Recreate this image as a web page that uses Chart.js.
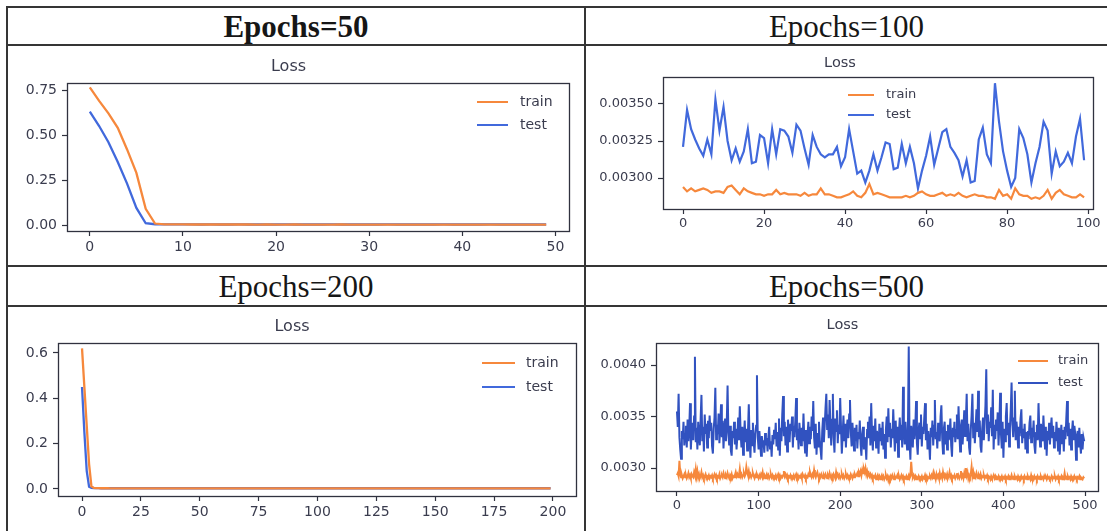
<!DOCTYPE html>
<html>
<head>
<meta charset="utf-8">
<script src="https://cdn.jsdelivr.net/npm/chart.js@4.4.1/dist/chart.umd.min.js"></script>
<style>
  body { margin: 0; background: #fff; width: 1107px; height: 531px; position: relative; overflow: hidden; }
  .rule { position: absolute; background: #353535; }
  .head { position: absolute; height: 38px; line-height: 38px; text-align: center;
          font-family: "Liberation Serif", serif; font-size: 31px; color: #161616; }
  canvas { position: absolute; }
</style>
</head>
<body>
<div class="rule" style="left:6px;top:6px;width:1101px;height:2px"></div>
<div class="rule" style="left:6px;top:44px;width:1101px;height:2px"></div>
<div class="rule" style="left:6px;top:265px;width:1101px;height:2px"></div>
<div class="rule" style="left:6px;top:305px;width:1101px;height:2px"></div>
<div class="rule" style="left:6px;top:6px;width:2px;height:525px"></div>
<div class="rule" style="left:584px;top:6px;width:2px;height:525px"></div>

<div class="head" style="left:8px;top:8px;width:576px;font-weight:bold">Epochs=50</div>
<div class="head" style="left:586px;top:8px;width:521px">Epochs=100</div>
<div class="head" style="left:8px;top:268px;width:576px">Epochs=200</div>
<div class="head" style="left:586px;top:268px;width:521px">Epochs=500</div>

<canvas id="c50"></canvas>
<canvas id="c100"></canvas>
<canvas id="c200"></canvas>
<canvas id="c500"></canvas>

<script>
// ---- data ----
const epochs50Train = [
  0.765, 0.690, 0.620, 0.540, 0.420, 0.290, 0.090, 0.0085, 0.0040, 0.0035,
  0.0033, 0.0032, 0.0031, 0.0031, 0.0030, 0.0030, 0.0030, 0.0030, 0.0029, 0.0030,
  0.0029, 0.0029, 0.0030, 0.0029, 0.0029, 0.0029, 0.0029, 0.0030, 0.0029, 0.0029,
  0.0029, 0.0029, 0.0029, 0.0029, 0.0029, 0.0029, 0.0029, 0.0029, 0.0029, 0.0029,
  0.0029, 0.0029, 0.0029, 0.0029, 0.0029, 0.0029, 0.0029, 0.0029, 0.0029, 0.0029
];
const epochs50Test = [
  0.630, 0.550, 0.460, 0.350, 0.230, 0.095, 0.010, 0.0045, 0.0036, 0.0034,
  0.0033, 0.0033, 0.0032, 0.0033, 0.0032, 0.0032, 0.0033, 0.0032, 0.0032, 0.0032,
  0.0032, 0.0033, 0.0032, 0.0032, 0.0032, 0.0032, 0.0033, 0.0032, 0.0032, 0.0032,
  0.0032, 0.0032, 0.0033, 0.0032, 0.0032, 0.0032, 0.0032, 0.0032, 0.0033, 0.0032,
  0.0032, 0.0032, 0.0032, 0.0033, 0.0032, 0.0032, 0.0032, 0.0032, 0.0032, 0.0032
];

const epochs100Train = [
  0.00294, 0.00291, 0.00293, 0.00291, 0.00292, 0.00293, 0.00292, 0.00290, 0.00291, 0.00291,
  0.00290, 0.00294, 0.00295, 0.00292, 0.00289, 0.00293, 0.00291, 0.00290, 0.00289, 0.00289,
  0.00288, 0.00289, 0.00289, 0.00292, 0.00289, 0.00290, 0.00289, 0.00289, 0.00289, 0.00288,
  0.00290, 0.00288, 0.00289, 0.00289, 0.00293, 0.00289, 0.00289, 0.00288, 0.00287, 0.00287,
  0.00288, 0.00289, 0.00291, 0.00288, 0.00287, 0.00290, 0.00296, 0.00289, 0.00290, 0.00289,
  0.00288, 0.00287, 0.00287, 0.00287, 0.00287, 0.00288, 0.00287, 0.00288, 0.00290, 0.00291,
  0.00289, 0.00288, 0.00288, 0.00289, 0.00290, 0.00288, 0.00289, 0.00288, 0.00290, 0.00288,
  0.00287, 0.00288, 0.00289, 0.00288, 0.00288, 0.00287, 0.00287, 0.00286, 0.00292, 0.00288,
  0.00289, 0.00286, 0.00293, 0.00289, 0.00288, 0.00288, 0.00286, 0.00287, 0.00286, 0.00288,
  0.00292, 0.00286, 0.00290, 0.00292, 0.00289, 0.00288, 0.00287, 0.00287, 0.00289, 0.00287
];
const epochs100Test = [
  0.00321, 0.00346, 0.00333, 0.00326, 0.00320, 0.00315, 0.00326, 0.00316, 0.00353, 0.00332,
  0.00348, 0.00325, 0.00312, 0.00320, 0.00311, 0.00318, 0.00333, 0.00310, 0.00311, 0.00329,
  0.00327, 0.00310, 0.00333, 0.00316, 0.00333, 0.00332, 0.00328, 0.00317, 0.00336, 0.00332,
  0.00320, 0.00309, 0.00329, 0.00321, 0.00316, 0.00314, 0.00316, 0.00316, 0.00321, 0.00308,
  0.00314, 0.00333, 0.00318, 0.00303, 0.00305, 0.00297, 0.00305, 0.00316, 0.00305, 0.00314,
  0.00324, 0.00323, 0.00306, 0.00307, 0.00323, 0.00310, 0.00321, 0.00310, 0.00293, 0.00305,
  0.00315, 0.00328, 0.00309, 0.00320, 0.00331, 0.00333, 0.00321, 0.00317, 0.00312, 0.00301,
  0.00312, 0.00297, 0.00298, 0.00326, 0.00334, 0.00316, 0.00310, 0.00364, 0.00338, 0.00318,
  0.00305, 0.00294, 0.00300, 0.00333, 0.00327, 0.00316, 0.00297, 0.00310, 0.00321, 0.00338,
  0.00332, 0.00303, 0.00318, 0.00308, 0.00311, 0.00317, 0.00310, 0.00328, 0.00340, 0.00312
];

const epochs200Train = [
  0.620, 0.450, 0.280, 0.110, 0.012, 0.0050, 0.0040, 0.0035, 0.0033, 0.0032,
  0.0031, 0.0031, 0.0030, 0.0030, 0.0030, 0.0030, 0.0030, 0.0029, 0.0030, 0.0029,
  0.0029, 0.0029, 0.0030, 0.0029, 0.0029, 0.0029, 0.0029, 0.0029, 0.0029, 0.0029,
  0.0029, 0.0029, 0.0029, 0.0029, 0.0030, 0.0029, 0.0029, 0.0029, 0.0029, 0.0029,
  0.0029, 0.0029, 0.0029, 0.0029, 0.0029, 0.0030, 0.0029, 0.0029, 0.0029, 0.0029,
  0.0029, 0.0029, 0.0029, 0.0029, 0.0029, 0.0029, 0.0029, 0.0029, 0.0029, 0.0029,
  0.0029, 0.0029, 0.0029, 0.0030, 0.0029, 0.0029, 0.0029, 0.0029, 0.0029, 0.0029,
  0.0029, 0.0029, 0.0029, 0.0029, 0.0029, 0.0029, 0.0029, 0.0029, 0.0029, 0.0029,
  0.0029, 0.0029, 0.0029, 0.0029, 0.0029, 0.0029, 0.0029, 0.0030, 0.0029, 0.0029,
  0.0029, 0.0029, 0.0029, 0.0029, 0.0029, 0.0029, 0.0029, 0.0029, 0.0029, 0.0029,
  0.0029, 0.0029, 0.0029, 0.0029, 0.0029, 0.0029, 0.0029, 0.0029, 0.0029, 0.0029,
  0.0029, 0.0029, 0.0030, 0.0029, 0.0029, 0.0029, 0.0029, 0.0029, 0.0029, 0.0029,
  0.0029, 0.0029, 0.0029, 0.0029, 0.0029, 0.0029, 0.0029, 0.0029, 0.0029, 0.0029,
  0.0029, 0.0029, 0.0029, 0.0029, 0.0029, 0.0029, 0.0029, 0.0029, 0.0029, 0.0029,
  0.0029, 0.0029, 0.0029, 0.0029, 0.0029, 0.0030, 0.0029, 0.0029, 0.0029, 0.0029,
  0.0029, 0.0029, 0.0029, 0.0029, 0.0029, 0.0029, 0.0029, 0.0029, 0.0029, 0.0029,
  0.0029, 0.0029, 0.0029, 0.0029, 0.0029, 0.0029, 0.0029, 0.0029, 0.0029, 0.0029,
  0.0029, 0.0029, 0.0029, 0.0029, 0.0029, 0.0029, 0.0029, 0.0029, 0.0029, 0.0029,
  0.0029, 0.0029, 0.0029, 0.0029, 0.0029, 0.0029, 0.0029, 0.0029, 0.0029, 0.0029,
  0.0029, 0.0029, 0.0029, 0.0029, 0.0029, 0.0029, 0.0029, 0.0029, 0.0029, 0.0029
];
const epochs200Test = [
  0.450, 0.250, 0.080, 0.010, 0.0045, 0.0038, 0.0035, 0.0034, 0.0033, 0.0033,
  0.0032, 0.0033, 0.0032, 0.0032, 0.0033, 0.0032, 0.0032, 0.0032, 0.0033, 0.0032,
  0.0032, 0.0032, 0.0032, 0.0033, 0.0032, 0.0032, 0.0032, 0.0032, 0.0032, 0.0033,
  0.0032, 0.0032, 0.0032, 0.0032, 0.0032, 0.0032, 0.0033, 0.0032, 0.0032, 0.0032,
  0.0032, 0.0033, 0.0032, 0.0032, 0.0032, 0.0032, 0.0032, 0.0032, 0.0033, 0.0032,
  0.0032, 0.0032, 0.0032, 0.0032, 0.0033, 0.0032, 0.0032, 0.0032, 0.0032, 0.0032,
  0.0032, 0.0032, 0.0033, 0.0032, 0.0032, 0.0032, 0.0032, 0.0032, 0.0032, 0.0033,
  0.0032, 0.0032, 0.0032, 0.0032, 0.0032, 0.0033, 0.0032, 0.0032, 0.0032, 0.0032,
  0.0032, 0.0032, 0.0032, 0.0033, 0.0032, 0.0032, 0.0032, 0.0032, 0.0032, 0.0032,
  0.0033, 0.0032, 0.0032, 0.0032, 0.0032, 0.0032, 0.0032, 0.0033, 0.0032, 0.0032,
  0.0032, 0.0032, 0.0032, 0.0032, 0.0033, 0.0032, 0.0032, 0.0032, 0.0032, 0.0032,
  0.0032, 0.0033, 0.0032, 0.0032, 0.0032, 0.0032, 0.0032, 0.0032, 0.0032, 0.0033,
  0.0032, 0.0032, 0.0032, 0.0032, 0.0032, 0.0033, 0.0032, 0.0032, 0.0032, 0.0032,
  0.0032, 0.0032, 0.0032, 0.0032, 0.0033, 0.0032, 0.0032, 0.0032, 0.0032, 0.0032,
  0.0032, 0.0033, 0.0032, 0.0032, 0.0032, 0.0032, 0.0032, 0.0032, 0.0033, 0.0032,
  0.0032, 0.0032, 0.0032, 0.0032, 0.0032, 0.0033, 0.0032, 0.0032, 0.0032, 0.0032,
  0.0032, 0.0032, 0.0033, 0.0032, 0.0032, 0.0032, 0.0032, 0.0032, 0.0032, 0.0032,
  0.0033, 0.0032, 0.0032, 0.0032, 0.0032, 0.0032, 0.0033, 0.0032, 0.0032, 0.0032,
  0.0032, 0.0032, 0.0032, 0.0033, 0.0032, 0.0032, 0.0032, 0.0032, 0.0032, 0.0032,
  0.0032, 0.0033, 0.0032, 0.0032, 0.0032, 0.0032, 0.0032, 0.0032, 0.0032, 0.0032
];

const epochs500Train = [
  0.00293, 0.00295, 0.00292, 0.00307, 0.00294, 0.00291, 0.00293, 0.00290, 0.00292, 0.00294,
  0.00291, 0.00293, 0.00290, 0.00292, 0.00295, 0.00291, 0.00293, 0.00290, 0.00294, 0.00292,
  0.00291, 0.00296, 0.00293, 0.00299, 0.00292, 0.00297, 0.00291, 0.00294, 0.00290, 0.00292,
  0.00296, 0.00291, 0.00293, 0.00290, 0.00292, 0.00294, 0.00290, 0.00292, 0.00291, 0.00293,
  0.00290, 0.00292, 0.00291, 0.00293, 0.00290, 0.00292, 0.00294, 0.00291, 0.00293, 0.00290,
  0.00292, 0.00291, 0.00294, 0.00290, 0.00292, 0.00293, 0.00291, 0.00295, 0.00292, 0.00290,
  0.00293, 0.00291, 0.00295, 0.00292, 0.00290, 0.00293, 0.00291, 0.00294, 0.00290, 0.00292,
  0.00291, 0.00293, 0.00296, 0.00292, 0.00294, 0.00291, 0.00293, 0.00299, 0.00292, 0.00294,
  0.00291, 0.00293, 0.00295, 0.00292, 0.00294, 0.00301, 0.00296, 0.00293, 0.00297, 0.00292,
  0.00294, 0.00291, 0.00293, 0.00295, 0.00292, 0.00290, 0.00293, 0.00291, 0.00294, 0.00292,
  0.00290, 0.00293, 0.00291, 0.00294, 0.00292, 0.00296, 0.00291, 0.00293, 0.00290, 0.00292,
  0.00294, 0.00291, 0.00293, 0.00290, 0.00292, 0.00294, 0.00291, 0.00293, 0.00290, 0.00292,
  0.00291, 0.00293, 0.00290, 0.00292, 0.00294, 0.00291, 0.00293, 0.00290, 0.00292, 0.00291,
  0.00293, 0.00297, 0.00292, 0.00294, 0.00291, 0.00293, 0.00290, 0.00292, 0.00291, 0.00293,
  0.00290, 0.00292, 0.00291, 0.00293, 0.00290, 0.00292, 0.00294, 0.00291, 0.00293, 0.00290,
  0.00292, 0.00291, 0.00293, 0.00290, 0.00294, 0.00292, 0.00291, 0.00293, 0.00290, 0.00292,
  0.00291, 0.00294, 0.00292, 0.00296, 0.00293, 0.00291, 0.00294, 0.00292, 0.00298, 0.00293,
  0.00291, 0.00294, 0.00296, 0.00292, 0.00290, 0.00293, 0.00291, 0.00294, 0.00292, 0.00290,
  0.00293, 0.00291, 0.00294, 0.00292, 0.00290, 0.00293, 0.00291, 0.00295, 0.00292, 0.00290,
  0.00293, 0.00291, 0.00294, 0.00292, 0.00290, 0.00296, 0.00292, 0.00294, 0.00291, 0.00293,
  0.00290, 0.00292, 0.00294, 0.00291, 0.00293, 0.00290, 0.00292, 0.00294, 0.00291, 0.00293,
  0.00290, 0.00292, 0.00291, 0.00294, 0.00292, 0.00290, 0.00293, 0.00291, 0.00294, 0.00292,
  0.00293, 0.00295, 0.00292, 0.00296, 0.00294, 0.00297, 0.00293, 0.00298, 0.00295, 0.00299,
  0.00296, 0.00300, 0.00294, 0.00297, 0.00293, 0.00295, 0.00292, 0.00294, 0.00291, 0.00293,
  0.00290, 0.00292, 0.00291, 0.00293, 0.00289, 0.00291, 0.00293, 0.00290, 0.00292, 0.00289,
  0.00291, 0.00293, 0.00290, 0.00292, 0.00289, 0.00291, 0.00293, 0.00290, 0.00292, 0.00288,
  0.00291, 0.00289, 0.00292, 0.00290, 0.00293, 0.00291, 0.00289, 0.00292, 0.00290, 0.00291,
  0.00293, 0.00290, 0.00292, 0.00289, 0.00291, 0.00293, 0.00290, 0.00292, 0.00289, 0.00291,
  0.00290, 0.00292, 0.00289, 0.00291, 0.00293, 0.00290, 0.00292, 0.00306, 0.00295, 0.00291,
  0.00293, 0.00290, 0.00292, 0.00289, 0.00291, 0.00290, 0.00292, 0.00289, 0.00291, 0.00290,
  0.00292, 0.00289, 0.00291, 0.00290, 0.00293, 0.00290, 0.00292, 0.00289, 0.00291, 0.00290,
  0.00292, 0.00290, 0.00293, 0.00291, 0.00295, 0.00290, 0.00292, 0.00289, 0.00294, 0.00291,
  0.00293, 0.00290, 0.00295, 0.00291, 0.00293, 0.00290, 0.00296, 0.00292, 0.00290, 0.00293,
  0.00291, 0.00294, 0.00290, 0.00292, 0.00296, 0.00291, 0.00293, 0.00290, 0.00292, 0.00291,
  0.00293, 0.00290, 0.00292, 0.00295, 0.00291, 0.00293, 0.00290, 0.00292, 0.00297, 0.00291,
  0.00293, 0.00290, 0.00295, 0.00291, 0.00300, 0.00293, 0.00296, 0.00290, 0.00293, 0.00291,
  0.00294, 0.00301, 0.00292, 0.00296, 0.00290, 0.00293, 0.00291, 0.00295, 0.00292, 0.00290,
  0.00293, 0.00291, 0.00294, 0.00290, 0.00292, 0.00291, 0.00293, 0.00290, 0.00292, 0.00291,
  0.00293, 0.00290, 0.00292, 0.00291, 0.00289, 0.00292, 0.00290, 0.00291, 0.00293, 0.00290,
  0.00292, 0.00289, 0.00291, 0.00290, 0.00292, 0.00289, 0.00291, 0.00290, 0.00292, 0.00289,
  0.00291, 0.00290, 0.00292, 0.00289, 0.00291, 0.00290, 0.00292, 0.00289, 0.00291, 0.00290,
  0.00293, 0.00290, 0.00291, 0.00289, 0.00292, 0.00290, 0.00291, 0.00289, 0.00292, 0.00290,
  0.00291, 0.00289, 0.00292, 0.00290, 0.00291, 0.00289, 0.00292, 0.00290, 0.00291, 0.00289,
  0.00292, 0.00290, 0.00291, 0.00289, 0.00293, 0.00290, 0.00291, 0.00289, 0.00292, 0.00290,
  0.00291, 0.00289, 0.00292, 0.00290, 0.00291, 0.00289, 0.00292, 0.00290, 0.00291, 0.00289,
  0.00292, 0.00290, 0.00291, 0.00289, 0.00292, 0.00290, 0.00291, 0.00289, 0.00290, 0.00292,
  0.00289, 0.00291, 0.00290, 0.00292, 0.00289, 0.00291, 0.00290, 0.00292, 0.00289, 0.00291,
  0.00290, 0.00292, 0.00289, 0.00291, 0.00290, 0.00295, 0.00290, 0.00291, 0.00289, 0.00292,
  0.00290, 0.00291, 0.00289, 0.00292, 0.00290, 0.00291, 0.00289, 0.00292, 0.00290, 0.00291,
  0.00289, 0.00291, 0.00290, 0.00292, 0.00289, 0.00291, 0.00290, 0.00289, 0.00291, 0.00290
];
const epochs500Test = [
  0.00355, 0.00340, 0.00372, 0.00330, 0.00318, 0.00309, 0.00336, 0.00328, 0.00345, 0.00322,
  0.00333, 0.00341, 0.00320, 0.00347, 0.00326, 0.00338, 0.00363, 0.00318, 0.00335, 0.00344,
  0.00327, 0.00350, 0.00408, 0.00325, 0.00339, 0.00318, 0.00345, 0.00331, 0.00322, 0.00348,
  0.00371, 0.00326, 0.00340, 0.00316, 0.00352, 0.00333, 0.00343, 0.00320, 0.00346, 0.00329,
  0.00351, 0.00336, 0.00344, 0.00321, 0.00314, 0.00338, 0.00349, 0.00378, 0.00328, 0.00342,
  0.00333, 0.00353, 0.00324, 0.00340, 0.00362, 0.00330, 0.00346, 0.00319, 0.00337, 0.00348,
  0.00326, 0.00343, 0.00380, 0.00334, 0.00322, 0.00341, 0.00317, 0.00312, 0.00336, 0.00329,
  0.00345, 0.00323, 0.00338, 0.00318, 0.00331, 0.00349, 0.00327, 0.00360, 0.00334, 0.00320,
  0.00340, 0.00313, 0.00329, 0.00346, 0.00325, 0.00338, 0.00317, 0.00335, 0.00362, 0.00328,
  0.00310, 0.00337, 0.00322, 0.00344, 0.00326, 0.00315, 0.00333, 0.00341, 0.00390, 0.00330,
  0.00318, 0.00336, 0.00324, 0.00312, 0.00331, 0.00320, 0.00327, 0.00315, 0.00334, 0.00322,
  0.00329, 0.00316, 0.00330, 0.00340, 0.00319, 0.00326, 0.00311, 0.00332, 0.00323, 0.00337,
  0.00328, 0.00344, 0.00321, 0.00335, 0.00318, 0.00348, 0.00312, 0.00339, 0.00326, 0.00352,
  0.00370, 0.00331, 0.00345, 0.00322, 0.00340, 0.00316, 0.00347, 0.00334, 0.00325, 0.00343,
  0.00336, 0.00350, 0.00320, 0.00341, 0.00330, 0.00346, 0.00368, 0.00327, 0.00338, 0.00318,
  0.00344, 0.00333, 0.00322, 0.00339, 0.00326, 0.00353, 0.00329, 0.00315, 0.00337, 0.00311,
  0.00332, 0.00345, 0.00324, 0.00340, 0.00328, 0.00350, 0.00336, 0.00365, 0.00330, 0.00319,
  0.00343, 0.00313, 0.00334, 0.00321, 0.00345, 0.00327, 0.00318, 0.00308, 0.00336, 0.00349,
  0.00325, 0.00341, 0.00358, 0.00372, 0.00338, 0.00352, 0.00329, 0.00366, 0.00344, 0.00322,
  0.00347, 0.00372, 0.00330, 0.00315, 0.00348, 0.00336, 0.00356, 0.00324, 0.00342, 0.00333,
  0.00368, 0.00340, 0.00314, 0.00332, 0.00351, 0.00326, 0.00343, 0.00320, 0.00338, 0.00347,
  0.00329, 0.00352, 0.00366, 0.00335, 0.00321, 0.00344, 0.00330, 0.00317, 0.00339, 0.00326,
  0.00342, 0.00319, 0.00335, 0.00328, 0.00346, 0.00323, 0.00312, 0.00333, 0.00340, 0.00318,
  0.00330, 0.00324, 0.00308, 0.00337, 0.00345, 0.00329, 0.00350, 0.00322, 0.00363, 0.00334,
  0.00317, 0.00341, 0.00326, 0.00348, 0.00320, 0.00336, 0.00331, 0.00314, 0.00343, 0.00327,
  0.00339, 0.00322, 0.00345, 0.00318, 0.00333, 0.00310, 0.00337, 0.00350, 0.00325, 0.00358,
  0.00331, 0.00344, 0.00320, 0.00338, 0.00329, 0.00357, 0.00335, 0.00316, 0.00346, 0.00324,
  0.00340, 0.00311, 0.00333, 0.00349, 0.00327, 0.00342, 0.00320, 0.00379, 0.00336, 0.00323,
  0.00345, 0.00330, 0.00318, 0.00338, 0.00418, 0.00326, 0.00308, 0.00341, 0.00333, 0.00320,
  0.00347, 0.00328, 0.00339, 0.00365, 0.00324, 0.00313, 0.00336, 0.00344, 0.00329, 0.00352,
  0.00321, 0.00340, 0.00333, 0.00348, 0.00363, 0.00327, 0.00343, 0.00318, 0.00336, 0.00325,
  0.00308, 0.00339, 0.00330, 0.00346, 0.00322, 0.00341, 0.00366, 0.00328, 0.00335, 0.00319,
  0.00344, 0.00332, 0.00326, 0.00350, 0.00361, 0.00329, 0.00314, 0.00338, 0.00345, 0.00323,
  0.00336, 0.00318, 0.00342, 0.00327, 0.00333, 0.00348, 0.00322, 0.00311, 0.00339, 0.00330,
  0.00345, 0.00325, 0.00337, 0.00352, 0.00328, 0.00360, 0.00334, 0.00316, 0.00341, 0.00347,
  0.00323, 0.00338, 0.00356, 0.00331, 0.00346, 0.00372, 0.00326, 0.00343, 0.00320, 0.00313,
  0.00337, 0.00351, 0.00372, 0.00329, 0.00344, 0.00324, 0.00340, 0.00357, 0.00335, 0.00375,
  0.00330, 0.00346, 0.00321, 0.00315, 0.00338, 0.00349, 0.00327, 0.00343, 0.00361, 0.00396,
  0.00334, 0.00352, 0.00326, 0.00345, 0.00339, 0.00359, 0.00331, 0.00376, 0.00318, 0.00342,
  0.00328, 0.00347, 0.00336, 0.00354, 0.00322, 0.00341, 0.00373, 0.00333, 0.00319, 0.00345,
  0.00310, 0.00338, 0.00326, 0.00350, 0.00363, 0.00332, 0.00344, 0.00321, 0.00339, 0.00356,
  0.00383, 0.00342, 0.00330, 0.00348, 0.00375, 0.00327, 0.00345, 0.00336, 0.00320, 0.00340,
  0.00331, 0.00348, 0.00357, 0.00324, 0.00338, 0.00329, 0.00343, 0.00318, 0.00335, 0.00315,
  0.00336, 0.00328, 0.00344, 0.00351, 0.00325, 0.00339, 0.00330, 0.00346, 0.00322, 0.00314,
  0.00334, 0.00342, 0.00327, 0.00363, 0.00337, 0.00321, 0.00343, 0.00331, 0.00326, 0.00351,
  0.00333, 0.00319, 0.00340, 0.00312, 0.00336, 0.00327, 0.00344, 0.00323, 0.00338, 0.00349,
  0.00329, 0.00341, 0.00320, 0.00335, 0.00326, 0.00345, 0.00332, 0.00317, 0.00339, 0.00313,
  0.00330, 0.00342, 0.00324, 0.00337, 0.00316, 0.00340, 0.00328, 0.00347, 0.00365, 0.00331,
  0.00344, 0.00322, 0.00338, 0.00318, 0.00335, 0.00346, 0.00327, 0.00341, 0.00333, 0.00308,
  0.00329, 0.00336, 0.00320, 0.00339, 0.00324, 0.00314, 0.00333, 0.00318, 0.00330, 0.00326
];

// tick positions shown on each axis
const ticks50X = [0, 10, 20, 30, 40, 50];
const ticks50Y = [0, 0.25, 0.5, 0.75];
const ticks100X = [0, 20, 40, 60, 80, 100];
const ticks100Y = [0.003, 0.00325, 0.0035];
const ticks200X = [0, 25, 50, 75, 100, 125, 150, 175, 200];
const ticks200Y = [0, 0.2, 0.4, 0.6];
const ticks500X = [0, 100, 200, 300, 400, 500];
const ticks500Y = [0.003, 0.0035, 0.004];

const TRAIN = '#f6883c';
const TEST = '#4169dc';
const INK = '#30323f';
const TXT = '#3a3c4e';

// matplotlib style closed box around the axes
const frame = {
  id: 'frame',
  afterDatasetsDraw(chart) {
    const a = chart.chartArea, ctx = chart.ctx;
    ctx.save();
    ctx.strokeStyle = INK;
    ctx.lineWidth = 1.3;
    ctx.strokeRect(Math.round(a.left) + 0.5, Math.round(a.top) + 0.5,
      Math.round(a.right - a.left), Math.round(a.bottom - a.top));
    ctx.restore();
  }
};

// legend drawn inside the axes like matplotlib
const mplLegend = {
  id: 'mplLegend',
  afterDatasetsDraw(chart, args, o) {
    const ctx = chart.ctx;
    ctx.save();
    ctx.font = o.size + 'px "DejaVu Sans"';
    ctx.textBaseline = 'middle';
    chart.data.datasets.forEach((ds, i) => {
      const y = o.y + i * o.dy;
      ctx.strokeStyle = ds.borderColor;
      ctx.lineWidth = 2;
      ctx.beginPath();
      ctx.moveTo(o.x, y);
      ctx.lineTo(o.x + o.len, y);
      ctx.stroke();
      ctx.fillStyle = TXT;
      ctx.fillText(ds.label, o.x + o.len + o.gap, y);
    });
    ctx.restore();
  }
};

function lossChart(id, s) {
  const canvas = document.getElementById(id);
  const c = s.canvas, p = s.plot;
  canvas.style.left = c[0] + 'px';
  canvas.style.top = c[1] + 'px';
  canvas.width = c[2];
  canvas.height = c[3];
  const tTop = s.titleY - c[1] - s.titleSize * 0.6;
  const tBottom = p[1] - c[1] - tTop - s.titleSize * 1.2;
  const font = {family: 'DejaVu Sans', size: s.tickSize};

  new Chart(canvas, {
    type: 'line',
    data: {
      datasets: [
        {label: 'train', data: s.train.map((v, i) => ({x: i, y: v})), borderColor: TRAIN,
         borderWidth: s.lw, pointRadius: 0, tension: 0},
        {label: 'test', data: s.test.map((v, i) => ({x: i, y: v})), borderColor: s.testColor || TEST,
         borderWidth: s.lw, pointRadius: 0, tension: 0}
      ]
    },
    options: {
      responsive: false,
      animation: false,
      events: [],
      layout: {padding: {left: 0, top: 0, bottom: 0, right: c[0] + c[2] - p[2]}},
      plugins: {
        legend: {display: false},
        tooltip: {enabled: false},
        title: {
          display: true, text: 'Loss', color: TXT,
          font: {family: 'DejaVu Sans', size: s.titleSize, weight: 'normal'},
          padding: {top: tTop, bottom: tBottom}
        },
        mplLegend: s.legend
      },
      scales: {
        x: {
          type: 'linear', min: s.xRange[0], max: s.xRange[1],
          afterBuildTicks: sc => { sc.ticks = s.xTicks.map(v => ({value: v})); },
          afterFit: sc => { sc.height = c[1] + c[3] - p[3]; sc.paddingLeft = 0; sc.paddingRight = 0; },
          border: {display: false},
          grid: {drawOnChartArea: false, drawTicks: true, tickLength: 5, tickColor: INK, tickWidth: 1.2},
          ticks: {autoSkip: false, maxRotation: 0, padding: s.xPad, color: TXT, font, callback: v => String(v)}
        },
        y: {
          min: s.yRange[0], max: s.yRange[1],
          afterBuildTicks: sc => { sc.ticks = s.yTicks.map(v => ({value: v})); },
          afterFit: sc => { sc.width = p[0] - c[0]; sc.paddingTop = 0; sc.paddingBottom = 0; },
          border: {display: false},
          grid: {drawOnChartArea: false, drawTicks: true, tickLength: 5, tickColor: INK, tickWidth: 1.2},
          ticks: {autoSkip: false, padding: 5, color: TXT, font, callback: v => v.toFixed(s.yDec)}
        }
      }
    },
    plugins: [frame, mplLegend]
  });
}

lossChart('c50', {
  canvas: [8, 46, 576, 219], plot: [67, 83, 569, 231],
  train: epochs50Train, test: epochs50Test,
  xTicks: ticks50X, yTicks: ticks50Y, yDec: 2,
  xRange: [-2.45, 51.45], yRange: [-0.033, 0.789],
  titleY: 67, titleSize: 16, tickSize: 14, xPad: 3, lw: 2.3,
  legend: {x: 469, y: 56, dy: 23, len: 31, gap: 12, size: 14}
});

lossChart('c100', {
  canvas: [587, 46, 518, 219], plot: [663, 77, 1093, 209],
  train: epochs100Train, test: epochs100Test,
  xTicks: ticks100X, yTicks: ticks100Y, yDec: 5,
  xRange: [-4.94, 101.2], yRange: [0.002791, 0.003682],
  titleY: 63, titleSize: 14.5, tickSize: 13, xPad: 2, lw: 2.2,
  legend: {x: 261, y: 49, dy: 20, len: 26, gap: 12, size: 13}
});

lossChart('c200', {
  canvas: [8, 307, 576, 224], plot: [58, 343, 576, 496],
  train: epochs200Train, test: epochs200Test,
  xTicks: ticks200X, yTicks: ticks200Y, yDec: 1,
  xRange: [-10.2, 209.8], yRange: [-0.031, 0.644],
  titleY: 327, titleSize: 16, tickSize: 14, xPad: 3, lw: 2.3,
  legend: {x: 474, y: 56, dy: 24, len: 33, gap: 11, size: 14}
});

lossChart('c500', {
  canvas: [587, 307, 518, 224], plot: [656, 343, 1098, 491],
  train: epochs500Train, test: epochs500Test, testColor: '#3152c0',
  xTicks: ticks500X, yTicks: ticks500Y, yDec: 4,
  xRange: [-25.7, 515.9], yRange: [0.002777, 0.004214],
  titleY: 325, titleSize: 14.5, tickSize: 13, xPad: 2, lw: 2,
  legend: {x: 431, y: 54, dy: 22, len: 30, gap: 10, size: 13}
});
</script>
</body>
</html>
